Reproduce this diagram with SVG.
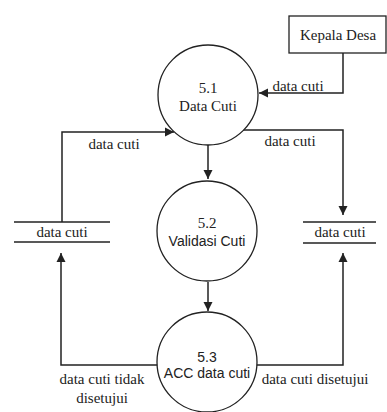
<svg xmlns="http://www.w3.org/2000/svg" width="387" height="412" viewBox="0 0 387 412">
<style>
.s{fill:#fff;stroke:#222;stroke-width:1.3}
.l{fill:none;stroke:#222;stroke-width:1.5}
.ser{font-family:'Liberation Serif','DejaVu Serif',serif;font-size:15px;fill:#222}
.san{font-family:'Liberation Sans','DejaVu Sans',sans-serif;font-size:14px;fill:#222}
</style>
<defs>
<marker id="a" markerWidth="10" markerHeight="10" refX="9" refY="5" orient="auto" markerUnits="userSpaceOnUse">
<path d="M0,0.5 L9,5 L0,9.5 Z" fill="#222"/>
</marker>
</defs>
<rect width="387" height="412" fill="#fff"/>
<g id="connectors">
<path class="l" d="M343,53 V93 H259" marker-end="url(#a)"/>
<path class="l" d="M62,222 V132 H174" marker-end="url(#a)"/>
<path class="l" d="M243,130 H343 V215" marker-end="url(#a)"/>
<path class="l" d="M208,145 V179" marker-end="url(#a)"/>
<path class="l" d="M208,282 V311" marker-end="url(#a)"/>
<path class="l" d="M158,365 H61 V253" marker-end="url(#a)"/>
<path class="l" d="M256,365 H343 V253" marker-end="url(#a)"/>
<text class="ser" x="298" y="91" text-anchor="middle">data cuti</text>
<text class="ser" x="114" y="149" text-anchor="middle">data cuti</text>
<text class="ser" x="290" y="146" text-anchor="middle">data cuti</text>
<text class="ser" x="102" y="384" text-anchor="middle">data cuti tidak</text>
<text class="ser" x="102" y="403" text-anchor="middle">disetujui</text>
<text class="ser" x="315" y="384" text-anchor="middle">data cuti disetujui</text>
</g>
<g id="kepala-desa">
<rect class="s" x="289" y="16" width="97" height="37"/>
<text class="ser" x="338" y="40" text-anchor="middle">Kepala Desa</text>
</g>
<g id="p51">
<circle class="s" cx="208" cy="95" r="50"/>
<text class="ser" x="208" y="93" text-anchor="middle">5.1</text>
<text class="ser" x="208" y="111" text-anchor="middle">Data Cuti</text>
</g>
<g id="p52">
<circle class="s" cx="207" cy="231" r="50"/>
<text class="ser" x="207" y="228" text-anchor="middle">5.2</text>
<text class="san" x="207" y="246" text-anchor="middle">Validasi Cuti</text>
</g>
<g id="p53">
<circle class="s" cx="207" cy="362" r="50"/>
<text class="san" x="207" y="362" text-anchor="middle">5.3</text>
<text class="san" x="207" y="378" text-anchor="middle">ACC data cuti</text>
</g>
<g id="store-left">
<line class="l" x1="14" y1="222" x2="110" y2="222"/>
<line class="l" x1="14" y1="242" x2="110" y2="242"/>
<text class="ser" x="62" y="237" text-anchor="middle">data cuti</text>
</g>
<g id="store-right">
<line class="l" x1="303" y1="222" x2="376" y2="222"/>
<line class="l" x1="303" y1="243" x2="376" y2="243"/>
<text class="ser" x="340" y="237" text-anchor="middle">data cuti</text>
</g>
</svg>
